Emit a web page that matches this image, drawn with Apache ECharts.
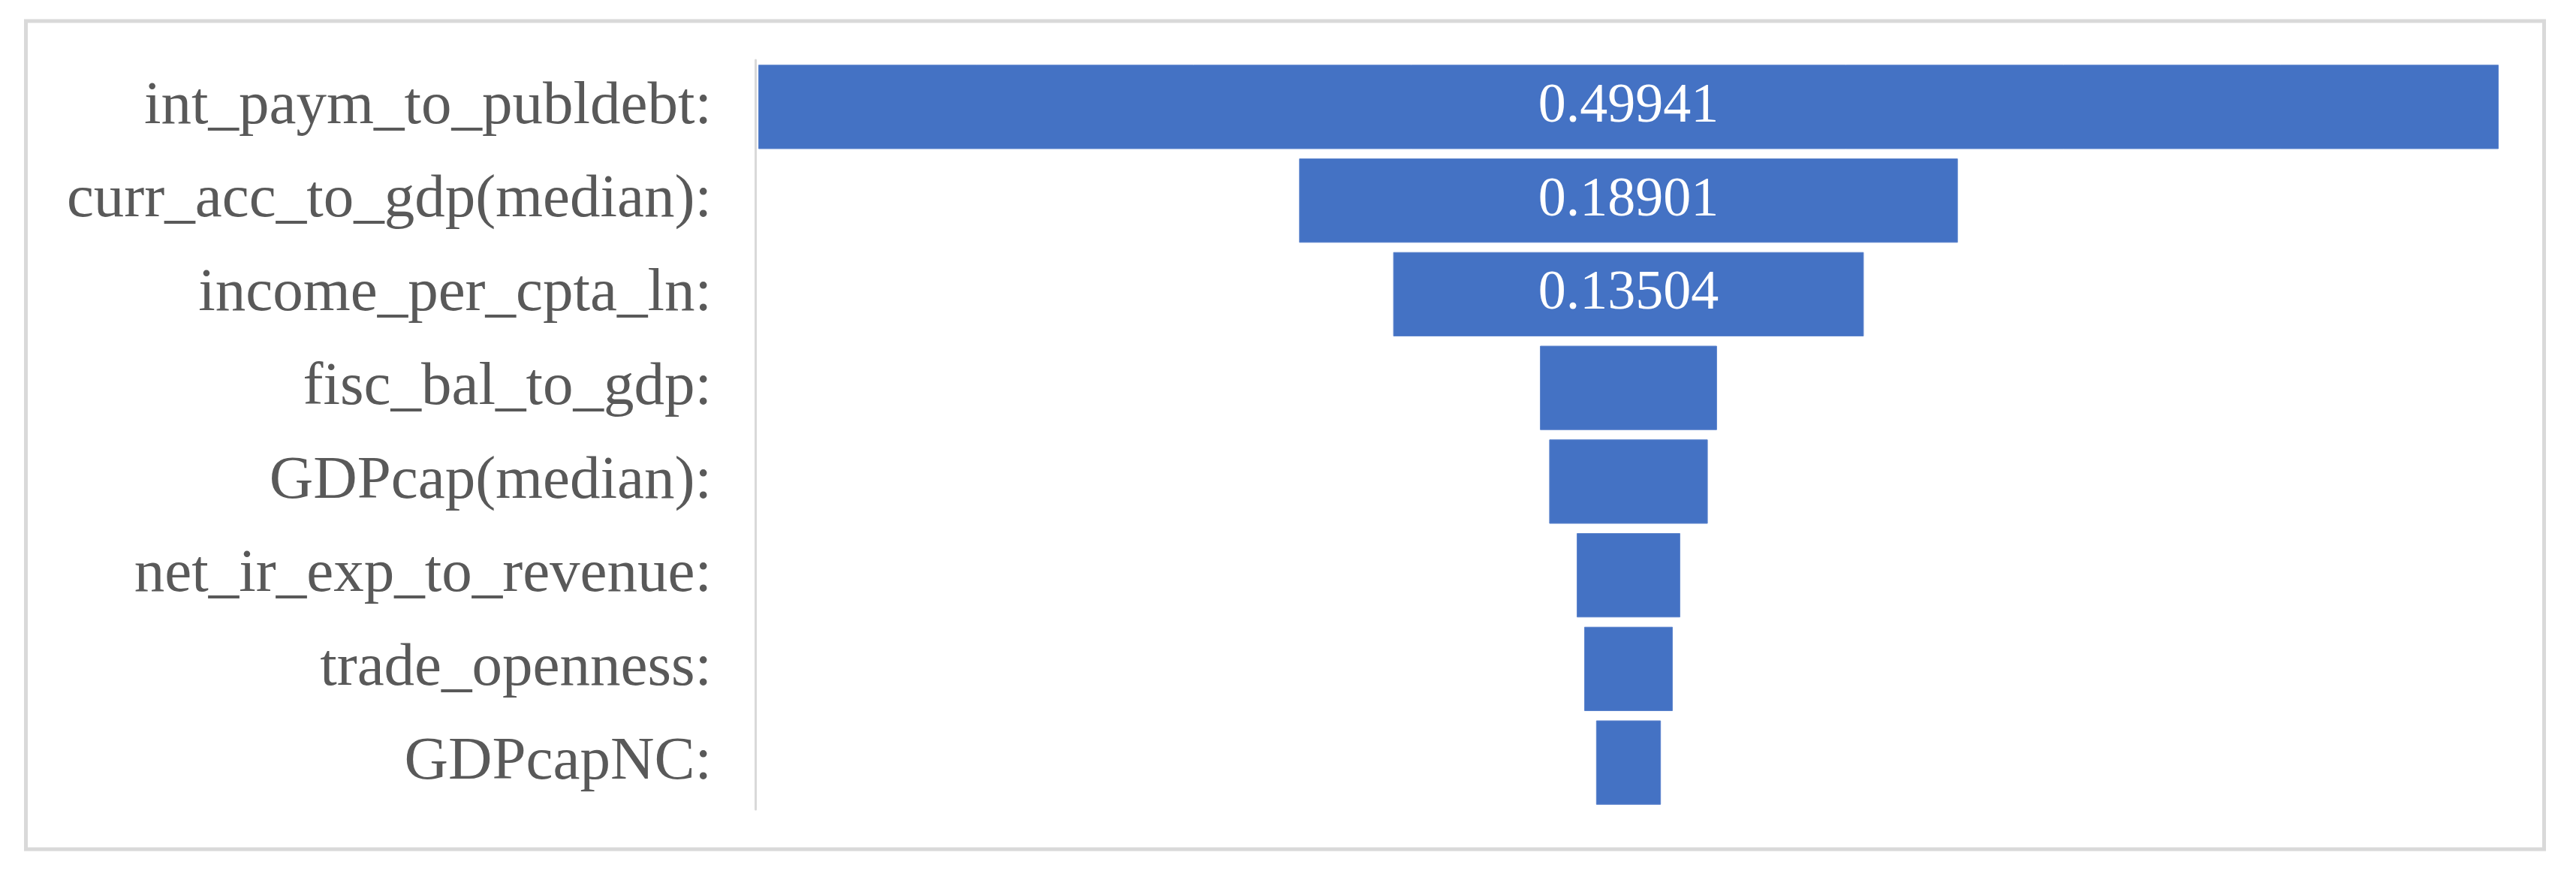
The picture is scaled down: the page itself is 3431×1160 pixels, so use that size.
<!DOCTYPE html>
<html>
<head>
<meta charset="utf-8">
<script src="https://cdn.jsdelivr.net/npm/echarts@6/dist/echarts.min.js"></script>
<style>
html,body{margin:0;padding:0;background:#fff;}
#chart{width:3431px;height:1160px;}
</style>
</head>
<body>
<div id="chart"></div>
<script>
const categories = ['int_paym_to_publdebt:', 'curr_acc_to_gdp(median):', 'income_per_cpta_ln:', 'fisc_bal_to_gdp:', 'GDPcap(median):', 'net_ir_exp_to_revenue:', 'trade_openness:', 'GDPcapNC:'];
const values = [0.49941, 0.18901, 0.13504, 0.0508, 0.0455, 0.0297, 0.0254, 0.0186];
const axisMax = 0.5011;

const chart = echarts.init(document.getElementById('chart'));
chart.setOption({
  animation: false,
  backgroundColor: '#ffffff',
  graphic: [{
    type: 'rect',
    shape: { x: 34.5, y: 28, width: 3354, height: 1103 },
    style: { fill: 'none', stroke: '#d9d9d9', lineWidth: 5 },
    silent: true
  }],
  grid: { left: 1006, right: 99, top: 80, bottom: 82 },
  xAxis: {
    type: 'value', min: 0, max: axisMax, show: false,
    splitLine: { show: false }
  },
  yAxis: {
    type: 'category', inverse: true, data: categories,
    axisTick: { show: false },
    axisLine: { show: true, lineStyle: { color: '#d9d9d9', width: 3 } },
    axisLabel: { fontFamily: 'Liberation Serif', fontSize: 81, color: '#595959', margin: 58 }
  },
  series: [
    {
      type: 'bar', stack: 'funnel', silent: true,
      barCategoryGap: '10%',
      itemStyle: { color: 'rgba(0,0,0,0)' },
      data: values.map(v => (axisMax - v) / 2)
    },
    {
      type: 'bar', stack: 'funnel',
      barCategoryGap: '10%',
      itemStyle: { color: '#4472C4', borderColor: '#5b83cc', borderWidth: 1 },
      label: {
        position: 'inside', color: '#ffffff', fontFamily: 'Liberation Serif', fontSize: 74,
        formatter: p => p.value.toFixed(5)
      },
      data: values.map(v => ({ value: v, label: { show: v >= 0.1 } }))
    }
  ]
});
</script>
</body>
</html>
